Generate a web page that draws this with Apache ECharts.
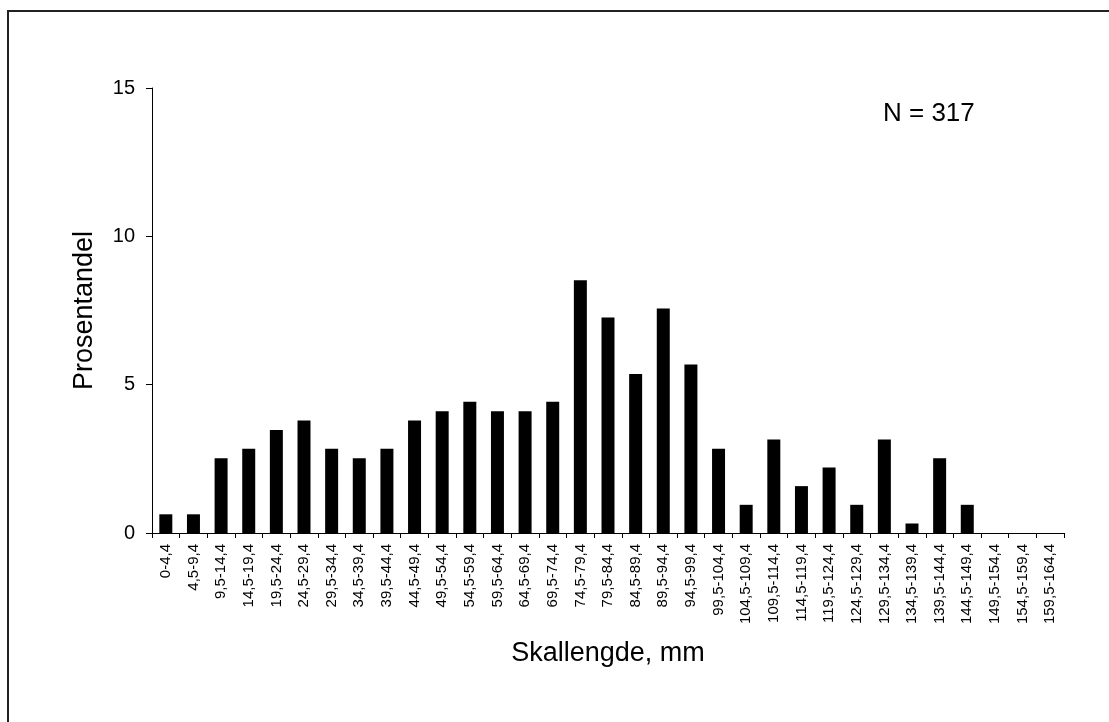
<!DOCTYPE html>
<html>
<head>
<meta charset="utf-8">
<script src="https://cdn.jsdelivr.net/npm/echarts@6/dist/echarts.min.js"></script>
<style>
html,body{margin:0;padding:0;background:#fff;}
#chart{width:1109px;height:722px;}
</style>
</head>
<body>
<div id="chart"></div>
<script>
const categories = ["0-4,4","4,5-9,4","9,5-14,4","14,5-19,4","19,5-24,4","24,5-29,4","29,5-34,4","34,5-39,4","39,5-44,4","44,5-49,4","49,5-54,4","54,5-59,4","59,5-64,4","64,5-69,4","69,5-74,4","74,5-79,4","79,5-84,4","84,5-89,4","89,5-94,4","94,5-99,4","99,5-104,4","104,5-109,4","109,5-114,4","114,5-119,4","119,5-124,4","124,5-129,4","129,5-134,4","134,5-139,4","139,5-144,4","144,5-149,4","149,5-154,4","154,5-159,4","159,5-164,4"];
const percentages = [0.63,0.63,2.52,2.84,3.47,3.79,2.84,2.52,2.84,3.79,4.10,4.42,4.10,4.10,4.42,8.52,7.26,5.36,7.57,5.68,2.84,0.95,3.15,1.58,2.21,0.95,3.15,0.32,2.52,0.95,0,0,0];
const yTicks = [0,5,10,15];
const annotation = "N = 317";
const xTitle = "Skallengde, mm";
const yTitle = "Prosentandel";

const chart = echarts.init(document.getElementById('chart'), null, {renderer:'canvas'});
const font = "'Liberation Sans', Arial, sans-serif";
chart.setOption({
  animation:false,
  backgroundColor:'#fff',
  graphic:[
    {type:'rect', shape:{x:8,y:11,width:1300,height:900}, style:{fill:'none', stroke:'#222', lineWidth:2}},
    {type:'text', left:883, top:101, style:{text:annotation, font:"26px "+font, fill:'#000'}}
  ],
  grid:{left:152, top:88, right:45, bottom:189, containLabel:false},
  xAxis:{
    type:'category', data:categories,
    axisLine:{lineStyle:{color:'#000', width:1}},
    axisTick:{show:true, alignWithLabel:false, length:5, lineStyle:{color:'#000'}},
    axisLabel:{rotate:90, interval:0, fontSize:15, fontFamily:font, color:'#000', margin:11},
    name:xTitle, nameLocation:'middle', nameGap:107,
    nameTextStyle:{fontSize:27, fontFamily:font, color:'#000'}
  },
  yAxis:{
    type:'value', min:yTicks[0], max:yTicks[yTicks.length-1], interval:5,
    splitLine:{show:false},
    axisLine:{show:true, lineStyle:{color:'#000', width:1}},
    axisTick:{show:true, length:6, lineStyle:{color:'#000'}},
    axisLabel:{fontSize:20, fontFamily:font, color:'#000', margin:17},
    name:yTitle, nameLocation:'middle', nameGap:54, nameRotate:90,
    nameTextStyle:{fontSize:27, fontFamily:font, color:'#000'}
  },
  series:[{
    type:'bar', data:percentages, barCategoryGap:'53%',
    itemStyle:{color:'#000'}
  }]
});
</script>
</body>
</html>
